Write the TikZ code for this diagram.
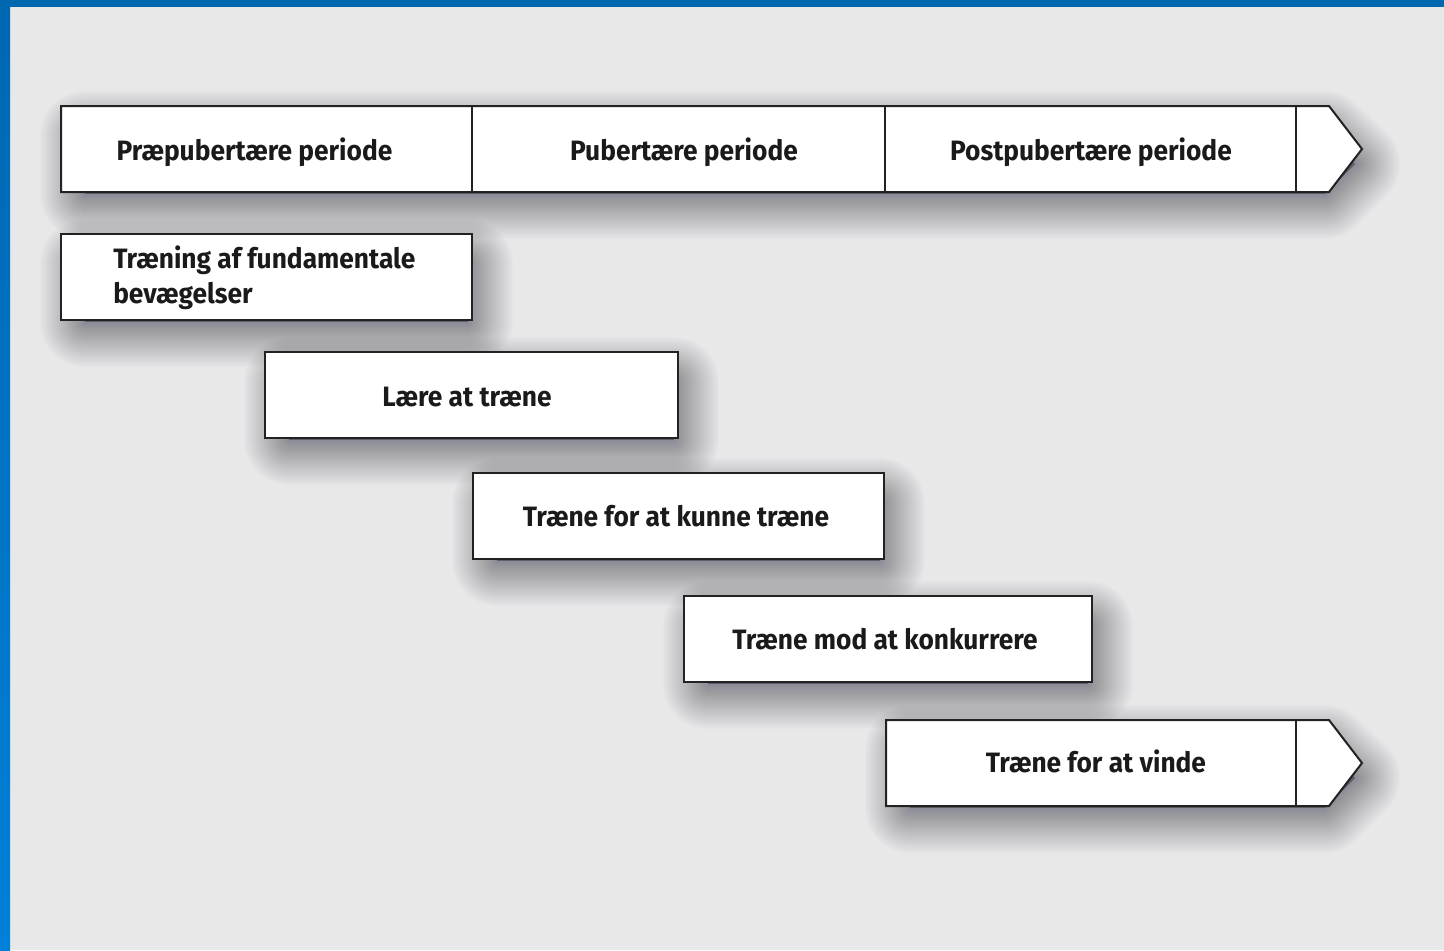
\documentclass[tikz,border=0pt]{standalone}
\usepackage{fontspec}
\setmainfont{Fira Sans}[FakeStretch=0.94]
\definecolor{bg}{HTML}{E8E8E9}
\definecolor{bluetop}{HTML}{0067B1}
\definecolor{bluebot}{HTML}{0080D8}
\definecolor{ink}{HTML}{1A1A1A}
\definecolor{edge}{HTML}{222222}
\definecolor{shadowcol}{HTML}{3A3A4C}
\tikzset{
  boxshape/.style={fill=white, draw=edge, line width=1.5pt, line join=miter},
  divider/.style={draw=edge, line width=1.5pt},
  label/.style={anchor=base, inner sep=0pt, text=ink, font=\fontsize{21}{25}\selectfont\bfseries},
}
% soft shadow: a core shape (already offset and inset) dilated in many faint layers
\newcommand\softshadow[1]{%
  \foreach \w [evaluate=\w as \lw using \w*0.75] in {2,4,...,90} {
    \filldraw[shadowcol, opacity=0.0125, line width=\lw pt, line join=round] #1;
  }%
}
\begin{document}
\begin{tikzpicture}[x=0.75pt, y=-0.75pt]
\useasboundingbox (0,0) rectangle (1444,950);
\fill[bg] (0,0) rectangle (1444,950);
\shade[top color=bluetop, bottom color=bluebot] (0,0) rectangle (10,950);
\fill[bluetop] (0,0) rectangle (1444,7);

% shadows (box shifted down-right and inset)
\softshadow{(85,136) -- (1325,136) -- (1355,164) -- (1325,194) -- (85,194) -- cycle}
\softshadow{(85,264) rectangle (468,322)}
\softshadow{(289,382) rectangle (674,440)}
\softshadow{(497,503) rectangle (880,561)}
\softshadow{(708,626) rectangle (1088,684)}
\softshadow{(910,750) -- (1325,750) -- (1355,778) -- (1325,808) -- (910,808) -- cycle}

% top bar
\path[boxshape] (61,106) -- (1329,106) -- (1362,149) -- (1329,192) -- (61,192) -- cycle;
\draw[divider] (472,106) -- (472,192);
\draw[divider] (885,106) -- (885,192);
\draw[divider] (1296,106) -- (1296,192);
\node[label] (p1) at (254.5,160) {Præpubertære periode};
\node[label] (p2) at (684,160) {Pubertære periode};
\node[label] (p3) at (1091,160) {Postpubertære periode};

% stage boxes
\path[boxshape] (61,234) rectangle (472,320);
\node[label, anchor=base west] (s1a) at (113,268) {Træning af fundamentale};
\node[label, anchor=base west] (s1b) at (113,303) {bevægelser};

\path[boxshape] (265,352) rectangle (678,438);
\node[label] (s2) at (467,406) {Lære at træne};

\path[boxshape] (473,473) rectangle (884,559);
\node[label] (s3) at (676,526) {Træne for at kunne træne};

\path[boxshape] (684,596) rectangle (1092,682);
\node[label] (s4) at (885,649) {Træne mod at konkurrere};

\path[boxshape] (886,720) -- (1329,720) -- (1362,763) -- (1329,806) -- (886,806) -- cycle;
\draw[divider] (1296,720) -- (1296,806);
\node[label] (s5) at (1096,772) {Træne for at vinde};
\end{tikzpicture}
\end{document}
